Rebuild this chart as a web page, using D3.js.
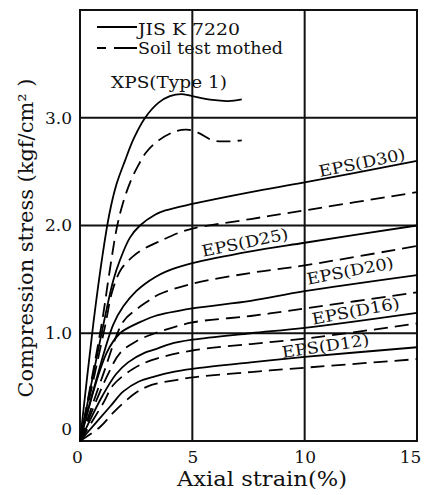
<!DOCTYPE html>
<html>
<head>
<meta charset="utf-8">
<script src="https://cdn.jsdelivr.net/npm/d3@7"></script>
<style>
  body { margin: 0; background: #fff; }
  svg { display: block; }
  text { font-family: "DejaVu Serif", serif; fill: #111; }
</style>
</head>
<body>
<svg width="428" height="495"></svg>
<script>
// tick values / labels
var strainTicks = [0, 5, 10, 15];
var stressTicks = [0, 1, 2, 3];
var stressTickLabels = ["0", "1.0", "2.0", "3.0"];

// curves: [axial strain %, compression stress kgf/cm2]
var xpsJis = [[0,0],[0.6,1.1],[1.0,1.72],[1.3,2.1],[1.62,2.38],[2.0,2.6],[2.4,2.81],[2.9,3.0],[3.5,3.14],[4.0,3.2],[4.5,3.22],[5.0,3.2],[5.9,3.165],[6.6,3.155],[7.2,3.17]];
var xpsSoil = [[0,0],[0.96,1.08],[1.3,1.55],[1.63,1.97],[1.9,2.2],[2.25,2.41],[2.6,2.56],[2.95,2.68],[3.5,2.79],[4.2,2.87],[4.75,2.89],[5.27,2.86],[5.9,2.79],[6.5,2.78],[7.2,2.79]];
var d30Jis = [[0,0],[1.04,1.08],[1.48,1.49],[1.78,1.68],[2.23,1.89],[2.67,2.0],[3.34,2.1],[3.8,2.14],[5,2.2],[7.6,2.31],[10,2.4],[15,2.6]];
var d30Soil = [[0,0],[1.1,1.05],[1.45,1.4],[1.85,1.6],[2.4,1.72],[2.9,1.79],[3.5,1.85],[4.8,1.96],[7.6,2.06],[10,2.14],[15,2.31]];
var d25Jis = [[0,0],[0.7,0.55],[1.48,1.08],[1.93,1.25],[2.5,1.39],[2.9,1.46],[3.34,1.52],[3.8,1.57],[5,1.65],[7.6,1.76],[10,1.84],[15,2.0]];
var d25Soil = [[0,0],[1.0,0.6],[1.93,1.11],[2.5,1.22],[2.97,1.29],[3.5,1.36],[5,1.46],[7.6,1.56],[10,1.63],[15,1.81]];
var d20Jis = [[0,0],[1.19,0.82],[1.78,1.0],[2.14,1.05],[2.74,1.11],[3.34,1.16],[5,1.23],[7.6,1.3],[10,1.39],[15,1.54]];
var d20Soil = [[0,0],[1.2,0.6],[1.8,0.82],[2.54,0.93],[3.34,1.0],[5,1.1],[7.6,1.16],[10,1.23],[15,1.38]];
var d16Jis = [[0,0],[1.0,0.42],[1.6,0.62],[2.14,0.73],[2.89,0.82],[3.34,0.85],[4,0.9],[5,0.94],[7.6,1.0],[10,1.05],[15,1.19]];
var d16Soil = [[0,0],[1.03,0.35],[1.48,0.52],[2.37,0.67],[3.19,0.75],[5,0.84],[7.6,0.9],[10,0.95],[15,1.09]];
var d12Jis = [[0,0],[1.34,0.32],[1.93,0.46],[2.6,0.55],[3.34,0.6],[4.1,0.64],[5,0.67],[7.6,0.73],[10,0.78],[15,0.87]];
var d12Soil = [[0,0],[0.89,0.13],[1.56,0.28],[2.5,0.45],[3.19,0.52],[4.4,0.57],[5,0.59],[7.6,0.64],[10,0.68],[15,0.76]];

var jisCurves = [xpsJis, d30Jis, d25Jis, d20Jis, d16Jis, d12Jis];
var soilCurves = [xpsSoil, d30Soil, d25Soil, d20Soil, d16Soil, d12Soil];
var curveNames = ["XPS(Type 1)", "EPS(D30)", "EPS(D25)", "EPS(D20)", "EPS(D16)", "EPS(D12)"];
var legendNames = ["JIS K 7220", "Soil test mothed"];

var svg = d3.select("svg");
// plot box (note: "top" is reserved on window, so use p*)
var pLeft = 80, pRight = 417, pTop = 10, pBottom = 441;

var x = d3.scaleLinear().domain([0, 15]).range([pLeft, pRight]);
var y = d3.scaleLinear().domain([0, 4]).range([pBottom, pTop]);

// grid lines
svg.append("g").selectAll("line").data([5, 10]).enter().append("line")
  .attr("x1", function (d) { return x(d); }).attr("x2", function (d) { return x(d); })
  .attr("y1", pTop).attr("y2", pBottom)
  .attr("stroke", "#111").attr("stroke-width", 2);
svg.append("g").selectAll("line").data([1, 2, 3]).enter().append("line")
  .attr("x1", pLeft).attr("x2", pRight)
  .attr("y1", function (d) { return y(d); }).attr("y2", function (d) { return y(d); })
  .attr("stroke", "#111").attr("stroke-width", 2);

// frame
svg.append("rect")
  .attr("x", pLeft).attr("y", pTop)
  .attr("width", pRight - pLeft).attr("height", pBottom - pTop)
  .attr("fill", "none").attr("stroke", "#111").attr("stroke-width", 2);

// curves
var line = d3.line()
  .x(function (d) { return x(d[0]); })
  .y(function (d) { return y(d[1]); })
  .curve(d3.curveCatmullRom.alpha(0.5));

svg.append("g").selectAll("path").data(jisCurves).enter().append("path")
  .attr("d", line).attr("fill", "none")
  .attr("stroke", "#000").attr("stroke-width", 1.8);
svg.append("g").selectAll("path").data(soilCurves).enter().append("path")
  .attr("d", line).attr("fill", "none")
  .attr("stroke", "#000").attr("stroke-width", 1.8)
  .attr("stroke-dasharray", "14,7");

// axes (labels only, grid drawn above)
var yAxis = svg.append("g")
  .attr("transform", "translate(" + pLeft + ",0)")
  .call(d3.axisLeft(y).tickValues(stressTicks).tickSize(0).tickPadding(8)
    .tickFormat(function (d, i) { return stressTickLabels[i]; }));
var xAxis = svg.append("g")
  .attr("transform", "translate(0," + pBottom + ")")
  .call(d3.axisBottom(x).tickValues(strainTicks).tickSize(0).tickPadding(10));
svg.selectAll(".domain").remove();
svg.selectAll(".tick text")
  .attr("font-family", "DejaVu Serif").attr("font-size", 17).attr("fill", "#111");
yAxis.selectAll(".tick text").filter(function (d) { return d === 0; }).attr("y", -12);
xAxis.selectAll(".tick text").filter(function (d) { return d === 0; }).attr("dx", -3);
xAxis.selectAll(".tick text").filter(function (d) { return d === 15; }).attr("dx", -7);

// axis titles
svg.append("text")
  .attr("transform", "translate(33,238) rotate(-90)")
  .attr("text-anchor", "middle")
  .attr("font-size", 21)
  .attr("textLength", 319).attr("lengthAdjust", "spacingAndGlyphs")
  .text("Compression stress (kgf/cm² )");
svg.append("text")
  .attr("x", 262).attr("y", 486)
  .attr("text-anchor", "middle")
  .attr("font-size", 21)
  .attr("textLength", 170).attr("lengthAdjust", "spacingAndGlyphs")
  .text("Axial strain(%)");

// legend
var legend = svg.append("g");
legend.append("line").attr("x1", 97).attr("x2", 137).attr("y1", 27).attr("y2", 27)
  .attr("stroke", "#000").attr("stroke-width", 1.9);
legend.append("line").attr("x1", 97).attr("x2", 137).attr("y1", 48).attr("y2", 48)
  .attr("stroke", "#000").attr("stroke-width", 1.9).attr("stroke-dasharray", "9,8,24");
legend.append("text").attr("x", 138).attr("y", 35).attr("font-size", 17)
  .attr("textLength", 102).attr("lengthAdjust", "spacingAndGlyphs").text(legendNames[0]);
legend.append("text").attr("x", 138).attr("y", 54).attr("font-size", 17)
  .attr("textLength", 145).attr("lengthAdjust", "spacingAndGlyphs").text(legendNames[1]);

// curve labels: anchor in data units, rotation, width
var labelSpots = [
  { at: [1.38, 3.28], rot: 0, len: 116 },
  { at: [10.68, 2.45], rot: -11.5, len: 88 },
  { at: [5.47, 1.71], rot: -11.5, len: 88 },
  { at: [10.15, 1.45], rot: -11, len: 88 },
  { at: [10.37, 1.08], rot: -10.5, len: 89 },
  { at: [9.03, 0.77], rot: -8.5, len: 88 }
];
svg.append("g").selectAll("text").data(curveNames).enter().append("text")
  .attr("transform", function (d, i) {
    var s = labelSpots[i];
    return "translate(" + x(s.at[0]) + "," + y(s.at[1]) + ") rotate(" + s.rot + ")";
  })
  .attr("font-size", 16)
  .attr("textLength", function (d, i) { return labelSpots[i].len; })
  .attr("lengthAdjust", "spacingAndGlyphs")
  .text(function (d) { return d; });
</script>
</body>
</html>
